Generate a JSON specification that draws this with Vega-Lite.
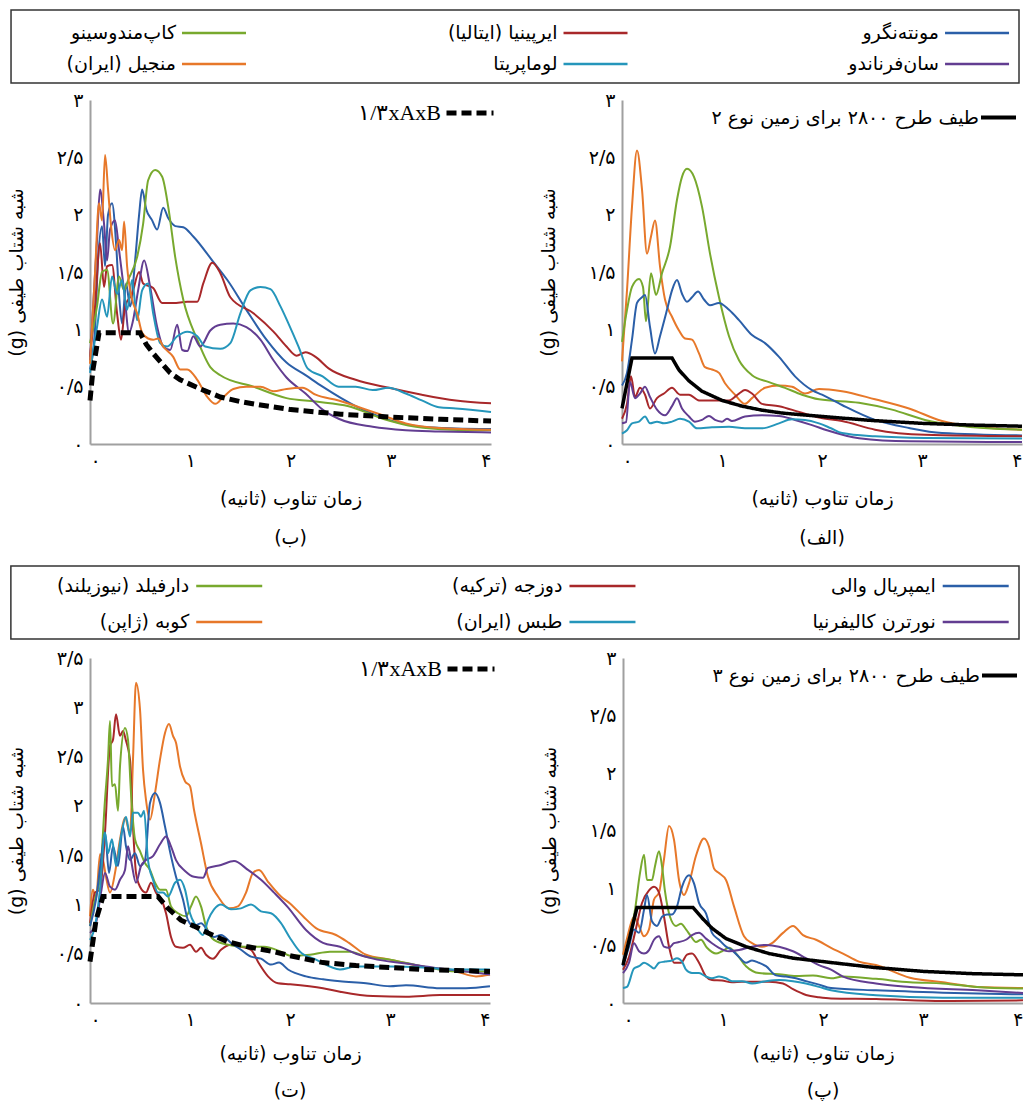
{
"$schema":"https://vega.github.io/schema/vega-lite/v6.json",
"padding":{"left":7,"top":9,"right":0,"bottom":0},
"config":{
 "font":"DejaVu Sans",
 "view":{"stroke":null},
 "axis":{"domainColor":"#a0a0a0","domainWidth":2,"ticks":false,"grid":false,"labelFontSize":19,"labelColor":"#000","labelPadding":7,"titleFontSize":19,"titleFontWeight":"normal","titleColor":"#000"},
 "axisX":{"titlePadding":19},
 "axisY":{"titlePadding":30},
 "title":{"fontSize":19,"fontWeight":"normal","color":"#000"}
},
"resolve":{"scale":{"strokeDash":"independent"},"legend":{"strokeDash":"independent"}},
"spacing":17,
"datasets":{
 "legTop":[{"k":"mont","name":"مونته\u200cنگرو","col":2,"row":0},{"k":"irp","name":"ایرپینیا (ایتالیا)","col":1,"row":0},{"k":"cape","name":"کاپ\u200cمندوسینو","col":0,"row":0},{"k":"sanf","name":"سان\u200cفرناندو","col":2,"row":1},{"k":"loma","name":"لوماپریتا","col":1,"row":1},{"k":"manj","name":"منجیل (ایران)","col":0,"row":1}],
 "legBot":[{"k":"imp","name":"ایمپریال والی","col":2,"row":0},{"k":"duz","name":"دوزجه (ترکیه)","col":1,"row":0},{"k":"darf","name":"دارفیلد (نیوزیلند)","col":0,"row":0},{"k":"ncal","name":"نورترن کالیفرنیا","col":2,"row":1},{"k":"tabas","name":"طبس (ایران)","col":1,"row":1},{"k":"kobe","name":"کوبه (ژاپن)","col":0,"row":1}],
 "b":[
{"s":"mont","T":0,"Sa":0.65},{"s":"mont","T":0.05,"Sa":1.0},{"s":"mont","T":0.08,"Sa":1.6},{"s":"mont","T":0.12,"Sa":1.9},{"s":"mont","T":0.15,"Sa":1.55},{"s":"mont","T":0.18,"Sa":2.0},{"s":"mont","T":0.22,"Sa":2.1},{"s":"mont","T":0.26,"Sa":1.75},{"s":"mont","T":0.29,"Sa":1.3},{"s":"mont","T":0.32,"Sa":1.05},{"s":"mont","T":0.36,"Sa":1.4},{"s":"mont","T":0.4,"Sa":1.2},{"s":"mont","T":0.45,"Sa":1.6},{"s":"mont","T":0.49,"Sa":2.0},{"s":"mont","T":0.52,"Sa":2.22},{"s":"mont","T":0.56,"Sa":2.05},{"s":"mont","T":0.62,"Sa":1.95},{"s":"mont","T":0.67,"Sa":1.87},{"s":"mont","T":0.73,"Sa":2.06},{"s":"mont","T":0.78,"Sa":1.97},{"s":"mont","T":0.85,"Sa":1.9},{"s":"mont","T":0.93,"Sa":1.89},{"s":"mont","T":1.03,"Sa":1.81},{"s":"mont","T":1.22,"Sa":1.6},{"s":"mont","T":1.37,"Sa":1.43},{"s":"mont","T":1.56,"Sa":1.17},{"s":"mont","T":1.76,"Sa":0.91},{"s":"mont","T":1.96,"Sa":0.71},{"s":"mont","T":2.15,"Sa":0.6},{"s":"mont","T":2.32,"Sa":0.5},{"s":"mont","T":2.65,"Sa":0.33},{"s":"mont","T":2.98,"Sa":0.21},{"s":"mont","T":3.31,"Sa":0.15},{"s":"mont","T":3.65,"Sa":0.135},{"s":"mont","T":4.0,"Sa":0.13},
{"s":"irp","T":0,"Sa":0.76},{"s":"irp","T":0.05,"Sa":1.2},{"s":"irp","T":0.1,"Sa":1.75},{"s":"irp","T":0.14,"Sa":1.37},{"s":"irp","T":0.17,"Sa":1.55},{"s":"irp","T":0.22,"Sa":1.56},{"s":"irp","T":0.27,"Sa":1.14},{"s":"irp","T":0.31,"Sa":0.91},{"s":"irp","T":0.35,"Sa":1.2},{"s":"irp","T":0.42,"Sa":1.31},{"s":"irp","T":0.49,"Sa":1.5},{"s":"irp","T":0.53,"Sa":1.4},{"s":"irp","T":0.63,"Sa":1.36},{"s":"irp","T":0.72,"Sa":1.23},{"s":"irp","T":0.83,"Sa":1.23},{"s":"irp","T":0.97,"Sa":1.24},{"s":"irp","T":1.07,"Sa":1.24},{"s":"irp","T":1.13,"Sa":1.4},{"s":"irp","T":1.22,"Sa":1.58},{"s":"irp","T":1.3,"Sa":1.49},{"s":"irp","T":1.4,"Sa":1.28},{"s":"irp","T":1.63,"Sa":1.14},{"s":"irp","T":1.83,"Sa":0.98},{"s":"irp","T":1.96,"Sa":0.85},{"s":"irp","T":2.06,"Sa":0.77},{"s":"irp","T":2.15,"Sa":0.8},{"s":"irp","T":2.25,"Sa":0.76},{"s":"irp","T":2.38,"Sa":0.66},{"s":"irp","T":2.65,"Sa":0.56},{"s":"irp","T":2.98,"Sa":0.49},{"s":"irp","T":3.31,"Sa":0.43},{"s":"irp","T":3.65,"Sa":0.38},{"s":"irp","T":4.0,"Sa":0.355},
{"s":"cape","T":0,"Sa":0.88},{"s":"cape","T":0.07,"Sa":1.2},{"s":"cape","T":0.12,"Sa":1.5},{"s":"cape","T":0.17,"Sa":1.52},{"s":"cape","T":0.23,"Sa":1.05},{"s":"cape","T":0.29,"Sa":1.46},{"s":"cape","T":0.34,"Sa":1.34},{"s":"cape","T":0.38,"Sa":1.43},{"s":"cape","T":0.47,"Sa":1.63},{"s":"cape","T":0.53,"Sa":1.92},{"s":"cape","T":0.58,"Sa":2.3},{"s":"cape","T":0.65,"Sa":2.39},{"s":"cape","T":0.72,"Sa":2.33},{"s":"cape","T":0.78,"Sa":2.07},{"s":"cape","T":0.85,"Sa":1.63},{"s":"cape","T":0.93,"Sa":1.26},{"s":"cape","T":1.07,"Sa":0.91},{"s":"cape","T":1.2,"Sa":0.67},{"s":"cape","T":1.3,"Sa":0.6},{"s":"cape","T":1.63,"Sa":0.5},{"s":"cape","T":1.96,"Sa":0.4},{"s":"cape","T":2.25,"Sa":0.37},{"s":"cape","T":2.58,"Sa":0.33},{"s":"cape","T":2.92,"Sa":0.22},{"s":"cape","T":3.25,"Sa":0.15},{"s":"cape","T":3.6,"Sa":0.125},{"s":"cape","T":4.0,"Sa":0.12},
{"s":"sanf","T":0,"Sa":0.73},{"s":"sanf","T":0.07,"Sa":1.78},{"s":"sanf","T":0.1,"Sa":2.22},{"s":"sanf","T":0.14,"Sa":1.92},{"s":"sanf","T":0.17,"Sa":1.6},{"s":"sanf","T":0.2,"Sa":1.87},{"s":"sanf","T":0.25,"Sa":1.95},{"s":"sanf","T":0.29,"Sa":1.69},{"s":"sanf","T":0.34,"Sa":1.34},{"s":"sanf","T":0.39,"Sa":0.97},{"s":"sanf","T":0.43,"Sa":1.08},{"s":"sanf","T":0.48,"Sa":1.34},{"s":"sanf","T":0.54,"Sa":1.6},{"s":"sanf","T":0.6,"Sa":1.37},{"s":"sanf","T":0.67,"Sa":1.02},{"s":"sanf","T":0.73,"Sa":0.85},{"s":"sanf","T":0.8,"Sa":0.82},{"s":"sanf","T":0.87,"Sa":1.04},{"s":"sanf","T":0.92,"Sa":0.82},{"s":"sanf","T":0.97,"Sa":0.81},{"s":"sanf","T":1.03,"Sa":0.94},{"s":"sanf","T":1.1,"Sa":0.85},{"s":"sanf","T":1.2,"Sa":0.99},{"s":"sanf","T":1.3,"Sa":1.04},{"s":"sanf","T":1.43,"Sa":1.05},{"s":"sanf","T":1.56,"Sa":1.02},{"s":"sanf","T":1.7,"Sa":0.91},{"s":"sanf","T":1.83,"Sa":0.73},{"s":"sanf","T":1.96,"Sa":0.58},{"s":"sanf","T":2.15,"Sa":0.44},{"s":"sanf","T":2.32,"Sa":0.3},{"s":"sanf","T":2.48,"Sa":0.22},{"s":"sanf","T":2.82,"Sa":0.15},{"s":"sanf","T":3.15,"Sa":0.12},{"s":"sanf","T":3.48,"Sa":0.11},{"s":"sanf","T":4.0,"Sa":0.1},
{"s":"loma","T":0,"Sa":0.62},{"s":"loma","T":0.07,"Sa":1.02},{"s":"loma","T":0.12,"Sa":1.26},{"s":"loma","T":0.17,"Sa":1.11},{"s":"loma","T":0.22,"Sa":1.46},{"s":"loma","T":0.27,"Sa":1.31},{"s":"loma","T":0.32,"Sa":1.43},{"s":"loma","T":0.37,"Sa":1.17},{"s":"loma","T":0.42,"Sa":1.43},{"s":"loma","T":0.47,"Sa":1.08},{"s":"loma","T":0.52,"Sa":1.34},{"s":"loma","T":0.58,"Sa":1.4},{"s":"loma","T":0.63,"Sa":1.14},{"s":"loma","T":0.7,"Sa":0.88},{"s":"loma","T":0.77,"Sa":0.85},{"s":"loma","T":0.87,"Sa":0.94},{"s":"loma","T":0.97,"Sa":0.98},{"s":"loma","T":1.07,"Sa":0.94},{"s":"loma","T":1.15,"Sa":0.85},{"s":"loma","T":1.3,"Sa":0.83},{"s":"loma","T":1.4,"Sa":0.88},{"s":"loma","T":1.5,"Sa":1.14},{"s":"loma","T":1.6,"Sa":1.34},{"s":"loma","T":1.7,"Sa":1.37},{"s":"loma","T":1.8,"Sa":1.35},{"s":"loma","T":1.9,"Sa":1.2},{"s":"loma","T":1.98,"Sa":1.05},{"s":"loma","T":2.08,"Sa":0.85},{"s":"loma","T":2.17,"Sa":0.66},{"s":"loma","T":2.32,"Sa":0.59},{"s":"loma","T":2.48,"Sa":0.5},{"s":"loma","T":2.65,"Sa":0.5},{"s":"loma","T":2.82,"Sa":0.47},{"s":"loma","T":2.98,"Sa":0.49},{"s":"loma","T":3.15,"Sa":0.44},{"s":"loma","T":3.31,"Sa":0.38},{"s":"loma","T":3.48,"Sa":0.32},{"s":"loma","T":3.65,"Sa":0.31},{"s":"loma","T":4.0,"Sa":0.28},
{"s":"manj","T":0,"Sa":0.7},{"s":"manj","T":0.05,"Sa":1.49},{"s":"manj","T":0.09,"Sa":2.1},{"s":"manj","T":0.12,"Sa":1.95},{"s":"manj","T":0.15,"Sa":2.52},{"s":"manj","T":0.18,"Sa":2.22},{"s":"manj","T":0.21,"Sa":1.9},{"s":"manj","T":0.25,"Sa":1.69},{"s":"manj","T":0.29,"Sa":1.78},{"s":"manj","T":0.32,"Sa":1.69},{"s":"manj","T":0.34,"Sa":1.94},{"s":"manj","T":0.37,"Sa":1.55},{"s":"manj","T":0.42,"Sa":1.26},{"s":"manj","T":0.47,"Sa":1.14},{"s":"manj","T":0.52,"Sa":0.97},{"s":"manj","T":0.58,"Sa":0.92},{"s":"manj","T":0.63,"Sa":0.91},{"s":"manj","T":0.68,"Sa":0.92},{"s":"manj","T":0.73,"Sa":0.85},{"s":"manj","T":0.83,"Sa":0.76},{"s":"manj","T":0.9,"Sa":0.65},{"s":"manj","T":0.97,"Sa":0.65},{"s":"manj","T":1.07,"Sa":0.56},{"s":"manj","T":1.17,"Sa":0.41},{"s":"manj","T":1.25,"Sa":0.35},{"s":"manj","T":1.33,"Sa":0.41},{"s":"manj","T":1.43,"Sa":0.48},{"s":"manj","T":1.56,"Sa":0.5},{"s":"manj","T":1.7,"Sa":0.5},{"s":"manj","T":1.83,"Sa":0.46},{"s":"manj","T":1.96,"Sa":0.48},{"s":"manj","T":2.12,"Sa":0.49},{"s":"manj","T":2.25,"Sa":0.43},{"s":"manj","T":2.48,"Sa":0.38},{"s":"manj","T":2.72,"Sa":0.31},{"s":"manj","T":2.92,"Sa":0.25},{"s":"manj","T":3.15,"Sa":0.18},{"s":"manj","T":3.48,"Sa":0.14},{"s":"manj","T":4.0,"Sa":0.125}
 ],
 "refB":[{"T":0,"Sa":0.38},{"T":0.03,"Sa":0.65},{"T":0.09,"Sa":0.97},{"T":0.5,"Sa":0.97},{"T":0.56,"Sa":0.87},{"T":0.63,"Sa":0.79},{"T":0.72,"Sa":0.7},{"T":0.8,"Sa":0.62},{"T":0.9,"Sa":0.56},{"T":1.0,"Sa":0.52},{"T":1.13,"Sa":0.47},{"T":1.3,"Sa":0.41},{"T":1.5,"Sa":0.37},{"T":1.7,"Sa":0.34},{"T":2.0,"Sa":0.3},{"T":2.5,"Sa":0.26},{"T":3.0,"Sa":0.235},{"T":3.5,"Sa":0.215},{"T":4.0,"Sa":0.2}],
 "alef":[
{"s":"manj","T":0,"Sa":0.72},{"s":"manj","T":0.05,"Sa":1.34},{"s":"manj","T":0.1,"Sa":2.07},{"s":"manj","T":0.15,"Sa":2.56},{"s":"manj","T":0.2,"Sa":2.22},{"s":"manj","T":0.25,"Sa":1.66},{"s":"manj","T":0.29,"Sa":1.81},{"s":"manj","T":0.33,"Sa":1.95},{"s":"manj","T":0.38,"Sa":1.55},{"s":"manj","T":0.43,"Sa":1.26},{"s":"manj","T":0.5,"Sa":1.11},{"s":"manj","T":0.57,"Sa":0.99},{"s":"manj","T":0.63,"Sa":0.92},{"s":"manj","T":0.7,"Sa":0.91},{"s":"manj","T":0.77,"Sa":0.79},{"s":"manj","T":0.83,"Sa":0.67},{"s":"manj","T":0.9,"Sa":0.65},{"s":"manj","T":0.97,"Sa":0.62},{"s":"manj","T":1.03,"Sa":0.53},{"s":"manj","T":1.13,"Sa":0.43},{"s":"manj","T":1.23,"Sa":0.35},{"s":"manj","T":1.3,"Sa":0.4},{"s":"manj","T":1.43,"Sa":0.49},{"s":"manj","T":1.57,"Sa":0.51},{"s":"manj","T":1.7,"Sa":0.5},{"s":"manj","T":1.83,"Sa":0.44},{"s":"manj","T":1.97,"Sa":0.48},{"s":"manj","T":2.2,"Sa":0.46},{"s":"manj","T":2.53,"Sa":0.39},{"s":"manj","T":2.87,"Sa":0.31},{"s":"manj","T":3.2,"Sa":0.2},{"s":"manj","T":3.53,"Sa":0.15},{"s":"manj","T":4.0,"Sa":0.125},
{"s":"cape","T":0,"Sa":0.89},{"s":"cape","T":0.05,"Sa":1.17},{"s":"cape","T":0.1,"Sa":1.37},{"s":"cape","T":0.17,"Sa":1.44},{"s":"cape","T":0.21,"Sa":1.37},{"s":"cape","T":0.24,"Sa":1.07},{"s":"cape","T":0.29,"Sa":1.49},{"s":"cape","T":0.34,"Sa":1.3},{"s":"cape","T":0.4,"Sa":1.49},{"s":"cape","T":0.48,"Sa":1.72},{"s":"cape","T":0.55,"Sa":2.13},{"s":"cape","T":0.6,"Sa":2.33},{"s":"cape","T":0.65,"Sa":2.4},{"s":"cape","T":0.72,"Sa":2.33},{"s":"cape","T":0.8,"Sa":2.07},{"s":"cape","T":0.88,"Sa":1.66},{"s":"cape","T":0.97,"Sa":1.28},{"s":"cape","T":1.07,"Sa":0.94},{"s":"cape","T":1.17,"Sa":0.73},{"s":"cape","T":1.3,"Sa":0.6},{"s":"cape","T":1.47,"Sa":0.54},{"s":"cape","T":1.63,"Sa":0.49},{"s":"cape","T":1.8,"Sa":0.43},{"s":"cape","T":1.97,"Sa":0.39},{"s":"cape","T":2.37,"Sa":0.36},{"s":"cape","T":2.7,"Sa":0.3},{"s":"cape","T":3.03,"Sa":0.21},{"s":"cape","T":3.37,"Sa":0.16},{"s":"cape","T":4.0,"Sa":0.125},
{"s":"mont","T":0,"Sa":0.51},{"s":"mont","T":0.05,"Sa":0.62},{"s":"mont","T":0.1,"Sa":0.91},{"s":"mont","T":0.15,"Sa":1.23},{"s":"mont","T":0.2,"Sa":1.28},{"s":"mont","T":0.23,"Sa":1.3},{"s":"mont","T":0.28,"Sa":1.02},{"s":"mont","T":0.33,"Sa":0.79},{"s":"mont","T":0.38,"Sa":0.94},{"s":"mont","T":0.45,"Sa":1.17},{"s":"mont","T":0.5,"Sa":1.34},{"s":"mont","T":0.55,"Sa":1.43},{"s":"mont","T":0.6,"Sa":1.31},{"s":"mont","T":0.65,"Sa":1.24},{"s":"mont","T":0.7,"Sa":1.28},{"s":"mont","T":0.76,"Sa":1.33},{"s":"mont","T":0.82,"Sa":1.26},{"s":"mont","T":0.88,"Sa":1.21},{"s":"mont","T":0.97,"Sa":1.23},{"s":"mont","T":1.07,"Sa":1.17},{"s":"mont","T":1.17,"Sa":1.08},{"s":"mont","T":1.3,"Sa":0.95},{"s":"mont","T":1.43,"Sa":0.88},{"s":"mont","T":1.57,"Sa":0.76},{"s":"mont","T":1.73,"Sa":0.59},{"s":"mont","T":1.9,"Sa":0.47},{"s":"mont","T":2.0,"Sa":0.43},{"s":"mont","T":2.2,"Sa":0.34},{"s":"mont","T":2.53,"Sa":0.21},{"s":"mont","T":2.87,"Sa":0.14},{"s":"mont","T":3.2,"Sa":0.096},{"s":"mont","T":4.0,"Sa":0.075},
{"s":"irp","T":0,"Sa":0.22},{"s":"irp","T":0.05,"Sa":0.35},{"s":"irp","T":0.09,"Sa":0.59},{"s":"irp","T":0.13,"Sa":0.41},{"s":"irp","T":0.18,"Sa":0.49},{"s":"irp","T":0.23,"Sa":0.43},{"s":"irp","T":0.28,"Sa":0.31},{"s":"irp","T":0.35,"Sa":0.4},{"s":"irp","T":0.42,"Sa":0.44},{"s":"irp","T":0.5,"Sa":0.49},{"s":"irp","T":0.58,"Sa":0.43},{"s":"irp","T":0.67,"Sa":0.43},{"s":"irp","T":0.77,"Sa":0.38},{"s":"irp","T":0.9,"Sa":0.38},{"s":"irp","T":1.07,"Sa":0.38},{"s":"irp","T":1.17,"Sa":0.44},{"s":"irp","T":1.23,"Sa":0.47},{"s":"irp","T":1.3,"Sa":0.44},{"s":"irp","T":1.4,"Sa":0.35},{"s":"irp","T":1.57,"Sa":0.33},{"s":"irp","T":1.77,"Sa":0.28},{"s":"irp","T":1.97,"Sa":0.23},{"s":"irp","T":2.2,"Sa":0.2},{"s":"irp","T":2.53,"Sa":0.125},{"s":"irp","T":3.03,"Sa":0.08},{"s":"irp","T":4.0,"Sa":0.067},
{"s":"sanf","T":0,"Sa":0.18},{"s":"sanf","T":0.04,"Sa":0.19},{"s":"sanf","T":0.08,"Sa":0.54},{"s":"sanf","T":0.13,"Sa":0.4},{"s":"sanf","T":0.18,"Sa":0.44},{"s":"sanf","T":0.23,"Sa":0.5},{"s":"sanf","T":0.28,"Sa":0.41},{"s":"sanf","T":0.35,"Sa":0.3},{"s":"sanf","T":0.43,"Sa":0.25},{"s":"sanf","T":0.5,"Sa":0.33},{"s":"sanf","T":0.55,"Sa":0.4},{"s":"sanf","T":0.6,"Sa":0.31},{"s":"sanf","T":0.67,"Sa":0.24},{"s":"sanf","T":0.73,"Sa":0.195},{"s":"sanf","T":0.8,"Sa":0.21},{"s":"sanf","T":0.87,"Sa":0.245},{"s":"sanf","T":0.93,"Sa":0.21},{"s":"sanf","T":1.0,"Sa":0.195},{"s":"sanf","T":1.05,"Sa":0.22},{"s":"sanf","T":1.1,"Sa":0.2},{"s":"sanf","T":1.23,"Sa":0.24},{"s":"sanf","T":1.4,"Sa":0.25},{"s":"sanf","T":1.57,"Sa":0.245},{"s":"sanf","T":1.73,"Sa":0.21},{"s":"sanf","T":1.9,"Sa":0.165},{"s":"sanf","T":2.05,"Sa":0.12},{"s":"sanf","T":2.37,"Sa":0.05},{"s":"sanf","T":2.87,"Sa":0.023},{"s":"sanf","T":4.0,"Sa":0.017},
{"s":"loma","T":0,"Sa":0.09},{"s":"loma","T":0.05,"Sa":0.12},{"s":"loma","T":0.1,"Sa":0.18},{"s":"loma","T":0.17,"Sa":0.195},{"s":"loma","T":0.23,"Sa":0.24},{"s":"loma","T":0.28,"Sa":0.18},{"s":"loma","T":0.35,"Sa":0.195},{"s":"loma","T":0.42,"Sa":0.18},{"s":"loma","T":0.5,"Sa":0.195},{"s":"loma","T":0.58,"Sa":0.22},{"s":"loma","T":0.67,"Sa":0.195},{"s":"loma","T":0.75,"Sa":0.137},{"s":"loma","T":0.9,"Sa":0.145},{"s":"loma","T":1.07,"Sa":0.15},{"s":"loma","T":1.23,"Sa":0.137},{"s":"loma","T":1.4,"Sa":0.137},{"s":"loma","T":1.57,"Sa":0.18},{"s":"loma","T":1.7,"Sa":0.215},{"s":"loma","T":1.83,"Sa":0.21},{"s":"loma","T":1.97,"Sa":0.18},{"s":"loma","T":2.09,"Sa":0.137},{"s":"loma","T":2.2,"Sa":0.096},{"s":"loma","T":2.53,"Sa":0.067},{"s":"loma","T":3.03,"Sa":0.052},{"s":"loma","T":4.0,"Sa":0.047}
 ],
 "refA":[{"T":0,"Sa":0.31},{"T":0.1,"Sa":0.75},{"T":0.5,"Sa":0.75},{"T":0.57,"Sa":0.645},{"T":0.67,"Sa":0.55},{"T":0.8,"Sa":0.46},{"T":1.0,"Sa":0.38},{"T":1.2,"Sa":0.33},{"T":1.4,"Sa":0.295},{"T":1.6,"Sa":0.27},{"T":2.0,"Sa":0.24},{"T":2.5,"Sa":0.205},{"T":3.0,"Sa":0.18},{"T":3.5,"Sa":0.165},{"T":4.0,"Sa":0.155}],
 "t":[
{"s":"kobe","T":0,"Sa":0.88},{"s":"kobe","T":0.03,"Sa":1.15},{"s":"kobe","T":0.06,"Sa":1.05},{"s":"kobe","T":0.1,"Sa":1.51},{"s":"kobe","T":0.13,"Sa":1.45},{"s":"kobe","T":0.16,"Sa":1.28},{"s":"kobe","T":0.2,"Sa":1.12},{"s":"kobe","T":0.25,"Sa":1.32},{"s":"kobe","T":0.3,"Sa":1.66},{"s":"kobe","T":0.35,"Sa":1.88},{"s":"kobe","T":0.4,"Sa":1.72},{"s":"kobe","T":0.43,"Sa":2.47},{"s":"kobe","T":0.46,"Sa":3.25},{"s":"kobe","T":0.5,"Sa":2.98},{"s":"kobe","T":0.53,"Sa":2.37},{"s":"kobe","T":0.56,"Sa":2.06},{"s":"kobe","T":0.6,"Sa":1.86},{"s":"kobe","T":0.65,"Sa":2.13},{"s":"kobe","T":0.7,"Sa":2.47},{"s":"kobe","T":0.75,"Sa":2.74},{"s":"kobe","T":0.79,"Sa":2.83},{"s":"kobe","T":0.83,"Sa":2.71},{"s":"kobe","T":0.86,"Sa":2.64},{"s":"kobe","T":0.9,"Sa":2.4},{"s":"kobe","T":0.95,"Sa":2.25},{"s":"kobe","T":1.0,"Sa":2.2},{"s":"kobe","T":1.04,"Sa":1.96},{"s":"kobe","T":1.11,"Sa":1.62},{"s":"kobe","T":1.18,"Sa":1.28},{"s":"kobe","T":1.28,"Sa":1.08},{"s":"kobe","T":1.39,"Sa":0.96},{"s":"kobe","T":1.48,"Sa":0.98},{"s":"kobe","T":1.56,"Sa":1.12},{"s":"kobe","T":1.63,"Sa":1.32},{"s":"kobe","T":1.69,"Sa":1.35},{"s":"kobe","T":1.78,"Sa":1.23},{"s":"kobe","T":1.91,"Sa":1.08},{"s":"kobe","T":2.0,"Sa":1.01},{"s":"kobe","T":2.13,"Sa":0.88},{"s":"kobe","T":2.26,"Sa":0.76},{"s":"kobe","T":2.46,"Sa":0.69},{"s":"kobe","T":2.59,"Sa":0.61},{"s":"kobe","T":2.76,"Sa":0.49},{"s":"kobe","T":3.0,"Sa":0.44},{"s":"kobe","T":3.33,"Sa":0.37},{"s":"kobe","T":3.66,"Sa":0.32},{"s":"kobe","T":3.86,"Sa":0.27},{"s":"kobe","T":4.0,"Sa":0.29},
{"s":"duz","T":0,"Sa":0.81},{"s":"duz","T":0.05,"Sa":1.12},{"s":"duz","T":0.1,"Sa":1.15},{"s":"duz","T":0.15,"Sa":1.73},{"s":"duz","T":0.2,"Sa":2.61},{"s":"duz","T":0.23,"Sa":2.67},{"s":"duz","T":0.26,"Sa":2.93},{"s":"duz","T":0.3,"Sa":2.71},{"s":"duz","T":0.33,"Sa":2.76},{"s":"duz","T":0.36,"Sa":2.66},{"s":"duz","T":0.4,"Sa":2.47},{"s":"duz","T":0.43,"Sa":1.79},{"s":"duz","T":0.46,"Sa":1.32},{"s":"duz","T":0.5,"Sa":1.18},{"s":"duz","T":0.56,"Sa":1.12},{"s":"duz","T":0.61,"Sa":1.22},{"s":"duz","T":0.66,"Sa":1.12},{"s":"duz","T":0.71,"Sa":1.06},{"s":"duz","T":0.76,"Sa":0.91},{"s":"duz","T":0.81,"Sa":0.67},{"s":"duz","T":0.86,"Sa":0.57},{"s":"duz","T":0.93,"Sa":0.56},{"s":"duz","T":1.0,"Sa":0.59},{"s":"duz","T":1.06,"Sa":0.52},{"s":"duz","T":1.11,"Sa":0.56},{"s":"duz","T":1.16,"Sa":0.49},{"s":"duz","T":1.23,"Sa":0.45},{"s":"duz","T":1.31,"Sa":0.54},{"s":"duz","T":1.41,"Sa":0.59},{"s":"duz","T":1.51,"Sa":0.57},{"s":"duz","T":1.61,"Sa":0.54},{"s":"duz","T":1.69,"Sa":0.4},{"s":"duz","T":1.78,"Sa":0.27},{"s":"duz","T":1.88,"Sa":0.2},{"s":"duz","T":2.0,"Sa":0.19},{"s":"duz","T":2.33,"Sa":0.15},{"s":"duz","T":2.5,"Sa":0.115},{"s":"duz","T":2.83,"Sa":0.07},{"s":"duz","T":3.16,"Sa":0.064},{"s":"duz","T":3.5,"Sa":0.08},{"s":"duz","T":4.0,"Sa":0.08},
{"s":"darf","T":0,"Sa":0.78},{"s":"darf","T":0.05,"Sa":1.05},{"s":"darf","T":0.1,"Sa":1.28},{"s":"darf","T":0.15,"Sa":2.06},{"s":"darf","T":0.18,"Sa":2.47},{"s":"darf","T":0.2,"Sa":2.86},{"s":"darf","T":0.22,"Sa":2.2},{"s":"darf","T":0.25,"Sa":2.22},{"s":"darf","T":0.28,"Sa":1.95},{"s":"darf","T":0.3,"Sa":2.4},{"s":"darf","T":0.35,"Sa":2.79},{"s":"darf","T":0.38,"Sa":2.67},{"s":"darf","T":0.41,"Sa":2.13},{"s":"darf","T":0.45,"Sa":1.66},{"s":"darf","T":0.5,"Sa":1.54},{"s":"darf","T":0.55,"Sa":1.42},{"s":"darf","T":0.6,"Sa":1.35},{"s":"darf","T":0.65,"Sa":1.22},{"s":"darf","T":0.7,"Sa":1.15},{"s":"darf","T":0.76,"Sa":1.15},{"s":"darf","T":0.81,"Sa":0.98},{"s":"darf","T":0.88,"Sa":0.91},{"s":"darf","T":0.96,"Sa":0.88},{"s":"darf","T":1.01,"Sa":0.98},{"s":"darf","T":1.06,"Sa":1.08},{"s":"darf","T":1.11,"Sa":0.98},{"s":"darf","T":1.16,"Sa":0.78},{"s":"darf","T":1.24,"Sa":0.64},{"s":"darf","T":1.38,"Sa":0.59},{"s":"darf","T":1.54,"Sa":0.57},{"s":"darf","T":1.74,"Sa":0.57},{"s":"darf","T":1.91,"Sa":0.52},{"s":"darf","T":2.0,"Sa":0.48},{"s":"darf","T":2.2,"Sa":0.49},{"s":"darf","T":2.4,"Sa":0.52},{"s":"darf","T":2.6,"Sa":0.52},{"s":"darf","T":2.76,"Sa":0.47},{"s":"darf","T":3.0,"Sa":0.44},{"s":"darf","T":3.33,"Sa":0.37},{"s":"darf","T":3.66,"Sa":0.32},{"s":"darf","T":4.0,"Sa":0.32},
{"s":"imp","T":0,"Sa":0.78},{"s":"imp","T":0.06,"Sa":1.05},{"s":"imp","T":0.11,"Sa":1.45},{"s":"imp","T":0.15,"Sa":1.73},{"s":"imp","T":0.19,"Sa":1.32},{"s":"imp","T":0.23,"Sa":1.59},{"s":"imp","T":0.28,"Sa":1.39},{"s":"imp","T":0.33,"Sa":1.79},{"s":"imp","T":0.36,"Sa":1.59},{"s":"imp","T":0.4,"Sa":1.45},{"s":"imp","T":0.45,"Sa":1.52},{"s":"imp","T":0.5,"Sa":1.39},{"s":"imp","T":0.55,"Sa":1.45},{"s":"imp","T":0.6,"Sa":2.03},{"s":"imp","T":0.65,"Sa":2.13},{"s":"imp","T":0.7,"Sa":2.03},{"s":"imp","T":0.75,"Sa":1.79},{"s":"imp","T":0.81,"Sa":1.49},{"s":"imp","T":0.86,"Sa":1.28},{"s":"imp","T":0.93,"Sa":1.05},{"s":"imp","T":0.98,"Sa":0.84},{"s":"imp","T":1.04,"Sa":0.78},{"s":"imp","T":1.11,"Sa":0.81},{"s":"imp","T":1.18,"Sa":0.73},{"s":"imp","T":1.24,"Sa":0.67},{"s":"imp","T":1.31,"Sa":0.69},{"s":"imp","T":1.41,"Sa":0.61},{"s":"imp","T":1.51,"Sa":0.54},{"s":"imp","T":1.61,"Sa":0.47},{"s":"imp","T":1.71,"Sa":0.45},{"s":"imp","T":1.81,"Sa":0.39},{"s":"imp","T":1.89,"Sa":0.41},{"s":"imp","T":1.98,"Sa":0.34},{"s":"imp","T":2.16,"Sa":0.27},{"s":"imp","T":2.33,"Sa":0.24},{"s":"imp","T":2.5,"Sa":0.22},{"s":"imp","T":2.76,"Sa":0.2},{"s":"imp","T":3.0,"Sa":0.17},{"s":"imp","T":3.16,"Sa":0.18},{"s":"imp","T":3.5,"Sa":0.15},{"s":"imp","T":3.76,"Sa":0.15},{"s":"imp","T":4.0,"Sa":0.17},
{"s":"ncal","T":0,"Sa":0.71},{"s":"ncal","T":0.06,"Sa":0.81},{"s":"ncal","T":0.11,"Sa":1.12},{"s":"ncal","T":0.15,"Sa":1.32},{"s":"ncal","T":0.2,"Sa":1.18},{"s":"ncal","T":0.25,"Sa":1.15},{"s":"ncal","T":0.3,"Sa":1.25},{"s":"ncal","T":0.35,"Sa":1.35},{"s":"ncal","T":0.38,"Sa":1.59},{"s":"ncal","T":0.41,"Sa":1.45},{"s":"ncal","T":0.46,"Sa":1.22},{"s":"ncal","T":0.51,"Sa":1.39},{"s":"ncal","T":0.56,"Sa":1.45},{"s":"ncal","T":0.63,"Sa":1.49},{"s":"ncal","T":0.7,"Sa":1.61},{"s":"ncal","T":0.76,"Sa":1.69},{"s":"ncal","T":0.81,"Sa":1.59},{"s":"ncal","T":0.86,"Sa":1.45},{"s":"ncal","T":0.95,"Sa":1.34},{"s":"ncal","T":1.04,"Sa":1.28},{"s":"ncal","T":1.13,"Sa":1.27},{"s":"ncal","T":1.18,"Sa":1.37},{"s":"ncal","T":1.31,"Sa":1.4},{"s":"ncal","T":1.44,"Sa":1.44},{"s":"ncal","T":1.58,"Sa":1.35},{"s":"ncal","T":1.71,"Sa":1.25},{"s":"ncal","T":1.84,"Sa":1.12},{"s":"ncal","T":1.98,"Sa":0.97},{"s":"ncal","T":2.16,"Sa":0.74},{"s":"ncal","T":2.33,"Sa":0.61},{"s":"ncal","T":2.5,"Sa":0.57},{"s":"ncal","T":2.66,"Sa":0.5},{"s":"ncal","T":2.83,"Sa":0.45},{"s":"ncal","T":3.16,"Sa":0.4},{"s":"ncal","T":3.5,"Sa":0.35},{"s":"ncal","T":3.76,"Sa":0.32},{"s":"ncal","T":4.0,"Sa":0.29},
{"s":"tabas","T":0,"Sa":0.64},{"s":"tabas","T":0.05,"Sa":0.78},{"s":"tabas","T":0.1,"Sa":1.15},{"s":"tabas","T":0.15,"Sa":1.73},{"s":"tabas","T":0.18,"Sa":1.52},{"s":"tabas","T":0.22,"Sa":1.66},{"s":"tabas","T":0.26,"Sa":1.39},{"s":"tabas","T":0.31,"Sa":1.69},{"s":"tabas","T":0.36,"Sa":1.89},{"s":"tabas","T":0.4,"Sa":1.69},{"s":"tabas","T":0.43,"Sa":1.93},{"s":"tabas","T":0.48,"Sa":1.93},{"s":"tabas","T":0.51,"Sa":1.89},{"s":"tabas","T":0.54,"Sa":1.95},{"s":"tabas","T":0.58,"Sa":1.45},{"s":"tabas","T":0.63,"Sa":1.25},{"s":"tabas","T":0.68,"Sa":1.12},{"s":"tabas","T":0.73,"Sa":1.12},{"s":"tabas","T":0.78,"Sa":1.08},{"s":"tabas","T":0.85,"Sa":1.22},{"s":"tabas","T":0.9,"Sa":1.25},{"s":"tabas","T":0.95,"Sa":1.15},{"s":"tabas","T":1.0,"Sa":0.91},{"s":"tabas","T":1.06,"Sa":0.78},{"s":"tabas","T":1.13,"Sa":0.69},{"s":"tabas","T":1.18,"Sa":0.84},{"s":"tabas","T":1.24,"Sa":0.95},{"s":"tabas","T":1.31,"Sa":1.0},{"s":"tabas","T":1.41,"Sa":0.95},{"s":"tabas","T":1.51,"Sa":0.96},{"s":"tabas","T":1.61,"Sa":1.0},{"s":"tabas","T":1.71,"Sa":0.93},{"s":"tabas","T":1.81,"Sa":0.91},{"s":"tabas","T":1.91,"Sa":0.81},{"s":"tabas","T":2.0,"Sa":0.66},{"s":"tabas","T":2.1,"Sa":0.52},{"s":"tabas","T":2.26,"Sa":0.44},{"s":"tabas","T":2.5,"Sa":0.34},{"s":"tabas","T":2.66,"Sa":0.37},{"s":"tabas","T":3.0,"Sa":0.37},{"s":"tabas","T":3.33,"Sa":0.36},{"s":"tabas","T":3.66,"Sa":0.34},{"s":"tabas","T":4.0,"Sa":0.34}
 ],
 "refT":[{"T":0,"Sa":0.42},{"T":0.06,"Sa":0.84},{"T":0.13,"Sa":1.08},{"T":0.68,"Sa":1.08},{"T":0.78,"Sa":0.96},{"T":0.91,"Sa":0.84},{"T":1.04,"Sa":0.78},{"T":1.18,"Sa":0.71},{"T":1.38,"Sa":0.62},{"T":1.58,"Sa":0.57},{"T":1.84,"Sa":0.52},{"T":2.0,"Sa":0.48},{"T":2.33,"Sa":0.41},{"T":2.66,"Sa":0.38},{"T":3.0,"Sa":0.36},{"T":3.33,"Sa":0.34},{"T":3.66,"Sa":0.33},{"T":4.0,"Sa":0.32}],
 "p":[
{"s":"kobe","T":0,"Sa":0.42},{"s":"kobe","T":0.04,"Sa":0.56},{"s":"kobe","T":0.11,"Sa":0.75},{"s":"kobe","T":0.16,"Sa":0.67},{"s":"kobe","T":0.21,"Sa":0.58},{"s":"kobe","T":0.26,"Sa":0.64},{"s":"kobe","T":0.31,"Sa":0.9},{"s":"kobe","T":0.36,"Sa":0.96},{"s":"kobe","T":0.41,"Sa":1.25},{"s":"kobe","T":0.46,"Sa":1.54},{"s":"kobe","T":0.51,"Sa":1.42},{"s":"kobe","T":0.56,"Sa":1.07},{"s":"kobe","T":0.61,"Sa":0.94},{"s":"kobe","T":0.66,"Sa":1.04},{"s":"kobe","T":0.73,"Sa":1.28},{"s":"kobe","T":0.81,"Sa":1.43},{"s":"kobe","T":0.86,"Sa":1.36},{"s":"kobe","T":0.91,"Sa":1.17},{"s":"kobe","T":0.96,"Sa":1.13},{"s":"kobe","T":1.03,"Sa":1.07},{"s":"kobe","T":1.11,"Sa":0.84},{"s":"kobe","T":1.21,"Sa":0.58},{"s":"kobe","T":1.29,"Sa":0.52},{"s":"kobe","T":1.39,"Sa":0.49},{"s":"kobe","T":1.49,"Sa":0.52},{"s":"kobe","T":1.6,"Sa":0.61},{"s":"kobe","T":1.7,"Sa":0.67},{"s":"kobe","T":1.8,"Sa":0.59},{"s":"kobe","T":1.93,"Sa":0.55},{"s":"kobe","T":2.08,"Sa":0.48},{"s":"kobe","T":2.2,"Sa":0.43},{"s":"kobe","T":2.36,"Sa":0.36},{"s":"kobe","T":2.53,"Sa":0.33},{"s":"kobe","T":2.87,"Sa":0.22},{"s":"kobe","T":3.2,"Sa":0.18},{"s":"kobe","T":3.54,"Sa":0.14},{"s":"kobe","T":4.0,"Sa":0.13},
{"s":"darf","T":0,"Sa":0.35},{"s":"darf","T":0.06,"Sa":0.55},{"s":"darf","T":0.12,"Sa":0.81},{"s":"darf","T":0.17,"Sa":1.13},{"s":"darf","T":0.21,"Sa":1.29},{"s":"darf","T":0.24,"Sa":1.07},{"s":"darf","T":0.29,"Sa":1.07},{"s":"darf","T":0.32,"Sa":1.19},{"s":"darf","T":0.36,"Sa":1.32},{"s":"darf","T":0.39,"Sa":1.19},{"s":"darf","T":0.42,"Sa":0.97},{"s":"darf","T":0.47,"Sa":0.75},{"s":"darf","T":0.53,"Sa":0.67},{"s":"darf","T":0.58,"Sa":0.69},{"s":"darf","T":0.63,"Sa":0.64},{"s":"darf","T":0.68,"Sa":0.58},{"s":"darf","T":0.73,"Sa":0.53},{"s":"darf","T":0.78,"Sa":0.55},{"s":"darf","T":0.84,"Sa":0.48},{"s":"darf","T":0.93,"Sa":0.43},{"s":"darf","T":0.99,"Sa":0.45},{"s":"darf","T":1.06,"Sa":0.48},{"s":"darf","T":1.13,"Sa":0.43},{"s":"darf","T":1.23,"Sa":0.32},{"s":"darf","T":1.36,"Sa":0.26},{"s":"darf","T":1.56,"Sa":0.25},{"s":"darf","T":1.73,"Sa":0.235},{"s":"darf","T":1.9,"Sa":0.24},{"s":"darf","T":2.08,"Sa":0.215},{"s":"darf","T":2.2,"Sa":0.23},{"s":"darf","T":2.53,"Sa":0.21},{"s":"darf","T":2.87,"Sa":0.18},{"s":"darf","T":3.2,"Sa":0.17},{"s":"darf","T":3.54,"Sa":0.14},{"s":"darf","T":4.0,"Sa":0.125},
{"s":"duz","T":0,"Sa":0.29},{"s":"duz","T":0.06,"Sa":0.4},{"s":"duz","T":0.12,"Sa":0.61},{"s":"duz","T":0.19,"Sa":0.87},{"s":"duz","T":0.26,"Sa":0.98},{"s":"duz","T":0.31,"Sa":1.01},{"s":"duz","T":0.36,"Sa":0.96},{"s":"duz","T":0.41,"Sa":0.75},{"s":"duz","T":0.46,"Sa":0.49},{"s":"duz","T":0.51,"Sa":0.35},{"s":"duz","T":0.58,"Sa":0.35},{"s":"duz","T":0.64,"Sa":0.42},{"s":"duz","T":0.69,"Sa":0.43},{"s":"duz","T":0.76,"Sa":0.35},{"s":"duz","T":0.83,"Sa":0.23},{"s":"duz","T":0.89,"Sa":0.2},{"s":"duz","T":0.99,"Sa":0.195},{"s":"duz","T":1.09,"Sa":0.18},{"s":"duz","T":1.19,"Sa":0.185},{"s":"duz","T":1.29,"Sa":0.185},{"s":"duz","T":1.46,"Sa":0.185},{"s":"duz","T":1.6,"Sa":0.17},{"s":"duz","T":1.7,"Sa":0.12},{"s":"duz","T":1.83,"Sa":0.07},{"s":"duz","T":1.96,"Sa":0.05},{"s":"duz","T":2.08,"Sa":0.04},{"s":"duz","T":2.53,"Sa":0.035},{"s":"duz","T":3.2,"Sa":0.017},{"s":"duz","T":4.0,"Sa":0.023},
{"s":"imp","T":0,"Sa":0.32},{"s":"imp","T":0.06,"Sa":0.49},{"s":"imp","T":0.11,"Sa":0.64},{"s":"imp","T":0.16,"Sa":0.61},{"s":"imp","T":0.21,"Sa":0.81},{"s":"imp","T":0.24,"Sa":0.94},{"s":"imp","T":0.29,"Sa":0.71},{"s":"imp","T":0.34,"Sa":0.67},{"s":"imp","T":0.39,"Sa":0.75},{"s":"imp","T":0.44,"Sa":0.77},{"s":"imp","T":0.49,"Sa":0.77},{"s":"imp","T":0.54,"Sa":0.84},{"s":"imp","T":0.59,"Sa":1.01},{"s":"imp","T":0.66,"Sa":1.11},{"s":"imp","T":0.71,"Sa":1.04},{"s":"imp","T":0.76,"Sa":0.87},{"s":"imp","T":0.83,"Sa":0.78},{"s":"imp","T":0.89,"Sa":0.61},{"s":"imp","T":0.96,"Sa":0.55},{"s":"imp","T":1.03,"Sa":0.49},{"s":"imp","T":1.09,"Sa":0.46},{"s":"imp","T":1.16,"Sa":0.4},{"s":"imp","T":1.23,"Sa":0.35},{"s":"imp","T":1.29,"Sa":0.37},{"s":"imp","T":1.36,"Sa":0.35},{"s":"imp","T":1.43,"Sa":0.32},{"s":"imp","T":1.53,"Sa":0.24},{"s":"imp","T":1.63,"Sa":0.23},{"s":"imp","T":1.73,"Sa":0.215},{"s":"imp","T":1.83,"Sa":0.19},{"s":"imp","T":1.96,"Sa":0.16},{"s":"imp","T":2.08,"Sa":0.13},{"s":"imp","T":2.53,"Sa":0.11},{"s":"imp","T":3.2,"Sa":0.09},{"s":"imp","T":4.0,"Sa":0.075},
{"s":"ncal","T":0,"Sa":0.26},{"s":"ncal","T":0.06,"Sa":0.35},{"s":"ncal","T":0.11,"Sa":0.52},{"s":"ncal","T":0.16,"Sa":0.45},{"s":"ncal","T":0.21,"Sa":0.43},{"s":"ncal","T":0.26,"Sa":0.46},{"s":"ncal","T":0.31,"Sa":0.55},{"s":"ncal","T":0.36,"Sa":0.58},{"s":"ncal","T":0.41,"Sa":0.49},{"s":"ncal","T":0.46,"Sa":0.48},{"s":"ncal","T":0.51,"Sa":0.52},{"s":"ncal","T":0.56,"Sa":0.53},{"s":"ncal","T":0.63,"Sa":0.55},{"s":"ncal","T":0.69,"Sa":0.59},{"s":"ncal","T":0.76,"Sa":0.61},{"s":"ncal","T":0.83,"Sa":0.56},{"s":"ncal","T":0.89,"Sa":0.52},{"s":"ncal","T":0.96,"Sa":0.48},{"s":"ncal","T":1.06,"Sa":0.45},{"s":"ncal","T":1.16,"Sa":0.46},{"s":"ncal","T":1.29,"Sa":0.49},{"s":"ncal","T":1.43,"Sa":0.505},{"s":"ncal","T":1.56,"Sa":0.49},{"s":"ncal","T":1.7,"Sa":0.45},{"s":"ncal","T":1.83,"Sa":0.39},{"s":"ncal","T":1.96,"Sa":0.33},{"s":"ncal","T":2.08,"Sa":0.29},{"s":"ncal","T":2.2,"Sa":0.23},{"s":"ncal","T":2.53,"Sa":0.17},{"s":"ncal","T":2.87,"Sa":0.14},{"s":"ncal","T":3.54,"Sa":0.11},{"s":"ncal","T":4.0,"Sa":0.087},
{"s":"tabas","T":0,"Sa":0.13},{"s":"tabas","T":0.04,"Sa":0.14},{"s":"tabas","T":0.11,"Sa":0.3},{"s":"tabas","T":0.16,"Sa":0.32},{"s":"tabas","T":0.21,"Sa":0.35},{"s":"tabas","T":0.26,"Sa":0.33},{"s":"tabas","T":0.31,"Sa":0.3},{"s":"tabas","T":0.36,"Sa":0.35},{"s":"tabas","T":0.42,"Sa":0.36},{"s":"tabas","T":0.49,"Sa":0.37},{"s":"tabas","T":0.54,"Sa":0.39},{"s":"tabas","T":0.59,"Sa":0.36},{"s":"tabas","T":0.63,"Sa":0.29},{"s":"tabas","T":0.69,"Sa":0.26},{"s":"tabas","T":0.76,"Sa":0.26},{"s":"tabas","T":0.83,"Sa":0.23},{"s":"tabas","T":0.89,"Sa":0.215},{"s":"tabas","T":0.96,"Sa":0.23},{"s":"tabas","T":1.03,"Sa":0.215},{"s":"tabas","T":1.09,"Sa":0.19},{"s":"tabas","T":1.19,"Sa":0.19},{"s":"tabas","T":1.29,"Sa":0.17},{"s":"tabas","T":1.43,"Sa":0.19},{"s":"tabas","T":1.56,"Sa":0.2},{"s":"tabas","T":1.7,"Sa":0.19},{"s":"tabas","T":1.83,"Sa":0.17},{"s":"tabas","T":1.96,"Sa":0.14},{"s":"tabas","T":2.08,"Sa":0.11},{"s":"tabas","T":2.53,"Sa":0.067},{"s":"tabas","T":3.2,"Sa":0.046},{"s":"tabas","T":4.0,"Sa":0.046}
 ],
 "refP":[{"T":0,"Sa":0.33},{"T":0.14,"Sa":0.83},{"T":0.7,"Sa":0.83},{"T":0.79,"Sa":0.74},{"T":0.89,"Sa":0.65},{"T":1.03,"Sa":0.56},{"T":1.23,"Sa":0.49},{"T":1.46,"Sa":0.43},{"T":1.7,"Sa":0.39},{"T":2.0,"Sa":0.36},{"T":2.5,"Sa":0.31},{"T":3.0,"Sa":0.275},{"T":3.5,"Sa":0.255},{"T":4.0,"Sa":0.245}]
},
"vconcat":[
 {"spacing":3,
  "resolve":{"scale":{"strokeDash":"independent"},"legend":{"strokeDash":"independent"}},
  "vconcat":[
  {"width":929,"height":73,
   "layer":[
    {"data":{"values":[{}]},"mark":{"type":"rect","filled":false,"stroke":"#333","strokeWidth":1.5},
     "encoding":{"x":{"datum":-0.532,"type":"quantitative","scale":{"domain":[-0.325,2.11],"nice":false,"zero":false},"axis":null},"x2":{"datum":2.11},
      "y":{"datum":-0.742,"type":"quantitative","scale":{"domain":[-0.742,1.613],"reverse":true,"nice":false,"zero":false},"axis":null},"y2":{"datum":1.613}}},
    {"data":{"name":"legTop"},"mark":{"type":"point","shape":"stroke","size":4096,"strokeWidth":2.5,"filled":false,"opacity":1},
     "encoding":{"x":{"field":"col","type":"quantitative"},
      "y":{"field":"row","type":"quantitative"},
      "color":{"field":"k","type":"nominal","legend":null,"scale":{"domain":["mont","irp","cape","sanf","loma","manj","imp","duz","darf","ncal","tabas","kobe"],"range":["#2b5fa8","#a8282a","#78a92e","#623d91","#2596bb","#e7782a","#2b5fa8","#a8282a","#78a92e","#623d91","#2596bb","#e7782a"]}}}},
    {"data":{"name":"legTop"},"mark":{"type":"text","align":"right","baseline":"middle","dx":-38,"fontSize":19},
     "encoding":{"x":{"field":"col","type":"quantitative"},"y":{"field":"row","type":"quantitative"},"text":{"field":"name"}}}
   ]},
  {"spacing":35,
   "resolve":{"scale":{"strokeDash":"independent"},"legend":{"strokeDash":"independent"}},
   "hconcat":[
   {"width":401,"height":344,
    "title":{"text":"(ب)","orient":"bottom","offset":21},
    "layer":[
     {"data":{"name":"b"},"mark":{"type":"line","strokeWidth":2,"interpolate":"monotone"},
      "encoding":{"x":{"field":"T","type":"quantitative","scale":{"domain":[0,4],"nice":false},"axis":{"values":[0,1,2,3,4],"title":"زمان تناوب (ثانیه)","labelExpr":"replace(replace(replace(replace(replace(replace(replace(toString(datum.value),'.','/'),'0','۰'),'1','۱'),'2','۲'),'3','۳'),'4','۴'),'5','۵')"}},
       "y":{"field":"Sa","type":"quantitative","scale":{"domain":[0,3],"nice":false},"axis":{"values":[0,0.5,1,1.5,2,2.5,3],"title":"\u202bشبه شتاب طیفی (g)\u202c","labelExpr":"replace(replace(replace(replace(replace(replace(replace(toString(datum.value),'.','/'),'0','۰'),'1','۱'),'2','۲'),'3','۳'),'4','۴'),'5','۵')"}},
       "color":{"field":"s","type":"nominal","legend":null,"scale":{"domain":["mont","irp","cape","sanf","loma","manj","imp","duz","darf","ncal","tabas","kobe"],"range":["#2b5fa8","#a8282a","#78a92e","#623d91","#2596bb","#e7782a","#2b5fa8","#a8282a","#78a92e","#623d91","#2596bb","#e7782a"]}}}},
     {"data":{"name":"refB"},"mark":{"type":"line","strokeWidth":5,"color":"#000"},
      "encoding":{"x":{"field":"T","type":"quantitative"},"y":{"field":"Sa","type":"quantitative"},
       "strokeDash":{"datum":"۱/۳xAxB","type":"nominal","scale":{"range":[[10,5]]},
        "legend":{"orient":"top-right","offset":-13,"padding":0,"title":null,"symbolType":"stroke","symbolStrokeColor":"#000","symbolStrokeWidth":5,"symbolSize":2209,"labelFontSize":22,"labelFont":"Liberation Serif","labelAlign":"right","labelOffset":-55,"labelLimit":400}}}}
    ]},
   {"width":400,"height":344,
    "title":{"text":"(الف)","orient":"bottom","offset":21},
    "layer":[
     {"data":{"name":"alef"},"mark":{"type":"line","strokeWidth":2,"interpolate":"monotone"},
      "encoding":{"x":{"field":"T","type":"quantitative","scale":{"domain":[0,4],"nice":false},"axis":{"values":[0,1,2,3,4],"title":"زمان تناوب (ثانیه)","labelExpr":"replace(replace(replace(replace(replace(replace(replace(toString(datum.value),'.','/'),'0','۰'),'1','۱'),'2','۲'),'3','۳'),'4','۴'),'5','۵')"}},
       "y":{"field":"Sa","type":"quantitative","scale":{"domain":[0,3],"nice":false},"axis":{"values":[0,0.5,1,1.5,2,2.5,3],"title":"\u202bشبه شتاب طیفی (g)\u202c","labelExpr":"replace(replace(replace(replace(replace(replace(replace(toString(datum.value),'.','/'),'0','۰'),'1','۱'),'2','۲'),'3','۳'),'4','۴'),'5','۵')"}},
       "color":{"field":"s","type":"nominal","legend":null,"scale":{"domain":["mont","irp","cape","sanf","loma","manj","imp","duz","darf","ncal","tabas","kobe"],"range":["#2b5fa8","#a8282a","#78a92e","#623d91","#2596bb","#e7782a","#2b5fa8","#a8282a","#78a92e","#623d91","#2596bb","#e7782a"]}}}},
     {"data":{"name":"refA"},"mark":{"type":"line","strokeWidth":3.5,"color":"#000"},
      "encoding":{"x":{"field":"T","type":"quantitative"},"y":{"field":"Sa","type":"quantitative"},
       "strokeDash":{"datum":"طیف طرح ۲۸۰۰ برای زمین نوع ۲","type":"nominal","scale":{"range":[[1,0]]},
        "legend":{"orient":"top-right","offset":-2,"padding":0,"title":null,"symbolType":"stroke","symbolStrokeColor":"#000","symbolStrokeWidth":4,"symbolSize":1225,"labelFontSize":19,"labelAlign":"right","labelOffset":-39,"labelLimit":400}}}}
    ]}
  ]}
 ]},
 {"spacing":3,
  "resolve":{"scale":{"strokeDash":"independent"},"legend":{"strokeDash":"independent"}},
  "vconcat":[
  {"width":929,"height":73,
   "layer":[
    {"data":{"values":[{}]},"mark":{"type":"rect","filled":false,"stroke":"#333","strokeWidth":1.5},
     "encoding":{"x":{"datum":-0.585,"type":"quantitative","scale":{"domain":[-0.373,2.116],"nice":false,"zero":false},"axis":null},"x2":{"datum":2.116},
      "y":{"datum":-0.556,"type":"quantitative","scale":{"domain":[-0.556,1.472],"reverse":true,"nice":false,"zero":false},"axis":null},"y2":{"datum":1.472}}},
    {"data":{"name":"legBot"},"mark":{"type":"point","shape":"stroke","size":4356,"strokeWidth":2.5,"filled":false,"opacity":1},
     "encoding":{"x":{"field":"col","type":"quantitative"},
      "y":{"field":"row","type":"quantitative"},
      "color":{"field":"k","type":"nominal","legend":null,"scale":{"domain":["mont","irp","cape","sanf","loma","manj","imp","duz","darf","ncal","tabas","kobe"],"range":["#2b5fa8","#a8282a","#78a92e","#623d91","#2596bb","#e7782a","#2b5fa8","#a8282a","#78a92e","#623d91","#2596bb","#e7782a"]}}}},
    {"data":{"name":"legBot"},"mark":{"type":"text","align":"right","baseline":"middle","dx":-40,"fontSize":19},
     "encoding":{"x":{"field":"col","type":"quantitative"},"y":{"field":"row","type":"quantitative"},"text":{"field":"name"}}}
   ]},
  {"spacing":35,
   "resolve":{"scale":{"strokeDash":"independent"},"legend":{"strokeDash":"independent"}},
   "hconcat":[
   {"width":400,"height":345,
    "title":{"text":"(ت)","orient":"bottom","offset":19},
    "layer":[
     {"data":{"name":"t"},"mark":{"type":"line","strokeWidth":2,"interpolate":"monotone"},
      "encoding":{"x":{"field":"T","type":"quantitative","scale":{"domain":[0,4],"nice":false},"axis":{"values":[0,1,2,3,4],"title":"زمان تناوب (ثانیه)","titlePadding":15,"labelExpr":"replace(replace(replace(replace(replace(replace(replace(toString(datum.value),'.','/'),'0','۰'),'1','۱'),'2','۲'),'3','۳'),'4','۴'),'5','۵')"}},
       "y":{"field":"Sa","type":"quantitative","scale":{"domain":[0,3.5],"nice":false},"axis":{"values":[0,0.5,1,1.5,2,2.5,3,3.5],"title":"\u202bشبه شتاب طیفی (g)\u202c","labelExpr":"replace(replace(replace(replace(replace(replace(replace(toString(datum.value),'.','/'),'0','۰'),'1','۱'),'2','۲'),'3','۳'),'4','۴'),'5','۵')"}},
       "color":{"field":"s","type":"nominal","legend":null,"scale":{"domain":["mont","irp","cape","sanf","loma","manj","imp","duz","darf","ncal","tabas","kobe"],"range":["#2b5fa8","#a8282a","#78a92e","#623d91","#2596bb","#e7782a","#2b5fa8","#a8282a","#78a92e","#623d91","#2596bb","#e7782a"]}}}},
     {"data":{"name":"refT"},"mark":{"type":"line","strokeWidth":5,"color":"#000"},
      "encoding":{"x":{"field":"T","type":"quantitative"},"y":{"field":"Sa","type":"quantitative"},
       "strokeDash":{"datum":"۱/۳xAxB","type":"nominal","scale":{"range":[[10,5]]},
        "legend":{"orient":"top-right","offset":-15,"padding":0,"title":null,"symbolType":"stroke","symbolStrokeColor":"#000","symbolStrokeWidth":5,"symbolSize":2209,"labelFontSize":22,"labelFont":"Liberation Serif","labelAlign":"right","labelOffset":-55,"labelLimit":400}}}}
    ]},
   {"width":400,"height":345,
    "title":{"text":"(پ)","orient":"bottom","offset":19},
    "layer":[
     {"data":{"name":"p"},"mark":{"type":"line","strokeWidth":2,"interpolate":"monotone"},
      "encoding":{"x":{"field":"T","type":"quantitative","scale":{"domain":[0,4],"nice":false},"axis":{"values":[0,1,2,3,4],"title":"زمان تناوب (ثانیه)","titlePadding":15,"labelExpr":"replace(replace(replace(replace(replace(replace(replace(toString(datum.value),'.','/'),'0','۰'),'1','۱'),'2','۲'),'3','۳'),'4','۴'),'5','۵')"}},
       "y":{"field":"Sa","type":"quantitative","scale":{"domain":[0,3],"nice":false},"axis":{"values":[0,0.5,1,1.5,2,2.5,3],"title":"\u202bشبه شتاب طیفی (g)\u202c","labelExpr":"replace(replace(replace(replace(replace(replace(replace(toString(datum.value),'.','/'),'0','۰'),'1','۱'),'2','۲'),'3','۳'),'4','۴'),'5','۵')"}},
       "color":{"field":"s","type":"nominal","legend":null,"scale":{"domain":["mont","irp","cape","sanf","loma","manj","imp","duz","darf","ncal","tabas","kobe"],"range":["#2b5fa8","#a8282a","#78a92e","#623d91","#2596bb","#e7782a","#2b5fa8","#a8282a","#78a92e","#623d91","#2596bb","#e7782a"]}}}},
     {"data":{"name":"refP"},"mark":{"type":"line","strokeWidth":3.5,"color":"#000"},
      "encoding":{"x":{"field":"T","type":"quantitative"},"y":{"field":"Sa","type":"quantitative"},
       "strokeDash":{"datum":"طیف طرح ۲۸۰۰ برای زمین نوع ۳","type":"nominal","scale":{"range":[[1,0]]},
        "legend":{"orient":"top-right","offset":-2,"padding":0,"title":null,"symbolType":"stroke","symbolStrokeColor":"#000","symbolStrokeWidth":4,"symbolSize":1225,"labelFontSize":19,"labelAlign":"right","labelOffset":-39,"labelLimit":400}}}}
    ]}
  ]}
 ]}
]
}
